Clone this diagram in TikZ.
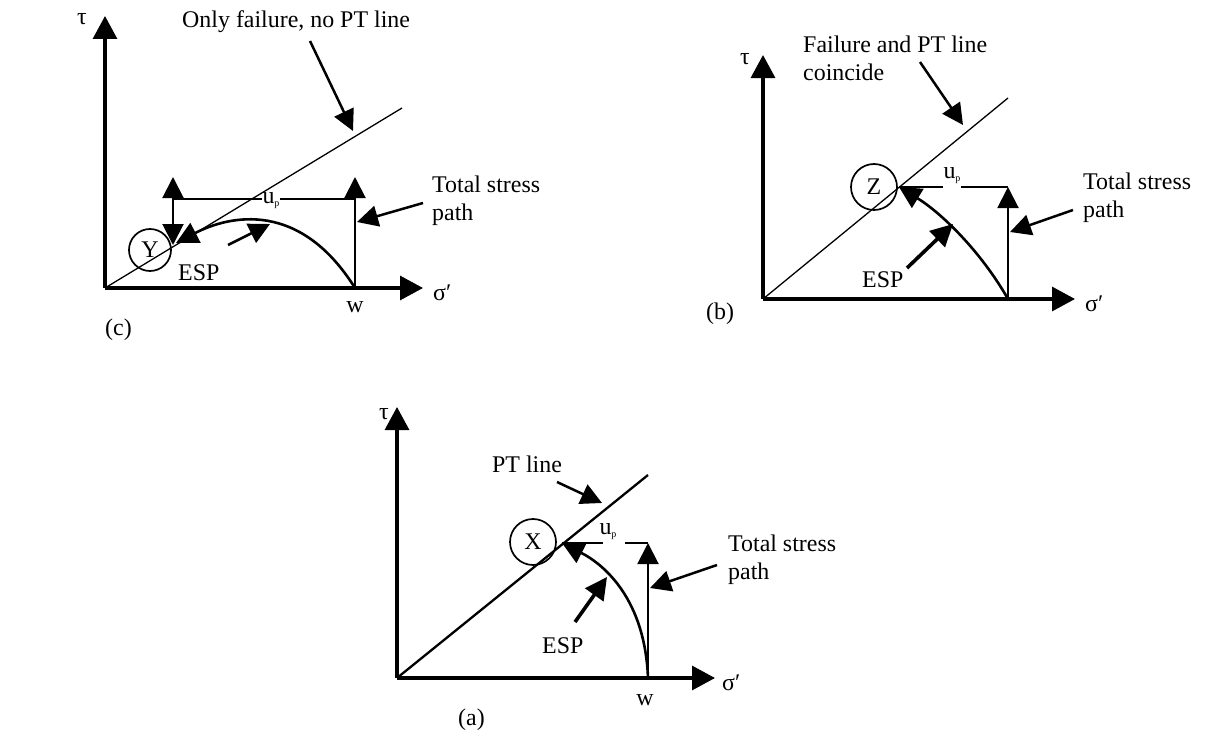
\documentclass[tikz,border=0pt]{standalone}
\usepackage{fontspec}
\setmainfont{Liberation Serif}
\usetikzlibrary{arrows.meta}
\newcommand{\lbfont}{\fontsize{24}{28}\selectfont}
\newcommand{\upl}{u\raisebox{-3bp}{\fontsize{10}{10}\selectfont p}}
\begin{document}
\begin{tikzpicture}[x=1bp,y=-1bp,
  ax/.style={line width=3.2bp,-{Triangle[length=23bp,width=24bp]}},
  fl/.style={line width=1.3bp},
  ul/.style={line width=1.8bp},
  tsp/.style={line width=2bp,-{Triangle[length=21bp,width=21bp]}},
  esp/.style={line width=2.6bp,-{Triangle[length=22bp,width=22bp]}},
  ptr/.style={line width=2.5bp,-{Triangle[length=21bp,width=21bp]}},
  ptrb/.style={line width=3.6bp,-{Triangle[length=22bp,width=22bp]}},
  circ/.style={circle,draw,line width=1.7bp,inner sep=0pt,minimum size=#1,font=\lbfont},
  lbl/.style={font=\lbfont,inner sep=0pt},
]
\useasboundingbox (0,0) rectangle (1215,745);
% ================= panel (c) =================
\coordinate (cO) at (105,288);
\coordinate (cT) at (105,16);
\coordinate (cS) at (423,288);
\coordinate (cF) at (402,108);
\draw[ax] (cO) -- (cT);
\draw[ax] (cO) -- (cS);
\draw[fl] (cO) -- (cF);
\node[circ=42bp] (Y) at (150,250) {Y};
\coordinate (cW) at (355,288);
\coordinate (cTop) at (355,177);
\coordinate (cL) at (173,199);
\coordinate (cLu) at (173,177);
\coordinate (cLd) at (173,245);
\coordinate (cR) at (355,199);
\node[lbl] (cup) at (271,201) {\upl};
\draw[ul] (cL) -- (cup.west |- cL);
\draw[ul] (cup.east |- cL) -- (cR);
\draw[tsp] (cL) -- (cLu);
\draw[tsp] (cL) -- (cLd);
\draw[tsp] (cW) -- (cTop);
\coordinate (cE) at (176,243);
\draw[esp] (cW) .. controls (300,200) and (230,215) .. (cE);
\coordinate (cA1) at (228,245);
\coordinate (cA2) at (270,224);
\draw[ptr] (cA1) -- (cA2);
\node[lbl,anchor=base west] (cesp) at (178,280) {ESP};
\node[lbl,anchor=base west] (cfail) at (182,28) {Only failure, no PT line};
\coordinate (cP1) at (310,41);
\coordinate (cP2) at (353,131);
\draw[ptr] (cP1) -- (cP2);
\node[lbl,anchor=west,align=left] (ctsp) at (432,201) {Total stress\\path};
\coordinate (cQ1) at (423,203);
\coordinate (cQ2) at (357,222);
\draw[ptr] (cQ1) -- (cQ2);
\node[lbl,anchor=base west] (csig) at (433,300) {σ′};
\node[lbl,anchor=base] (cw) at (355,312) {w};
\node[lbl,anchor=base] (ctau) at (82,25) {τ};
\node[lbl,anchor=base west] (clab) at (105,335) {(c)};
% ================= panel (b) =================
\coordinate (bO) at (763,299);
\coordinate (bT) at (763,55);
\coordinate (bS) at (1075,299);
\coordinate (bF) at (1008,98);
\draw[ax] (bO) -- (bT);
\draw[ax] (bO) -- (bS);
\draw[fl] (bO) -- (bF);
\node[circ=46bp] (Z) at (874,187) {Z};
\coordinate (bW) at (1008,299);
\coordinate (bR) at (1008,187);
\coordinate (bE) at (899,187);
\node[lbl] (bup) at (952,176) {\upl};
\draw[ul] (bE) -- (bup.west |- bE);
\draw[ul] (bup.east |- bE) -- (bR);
\draw[tsp] (bW) -- (bR);
\draw[esp] (bW) .. controls (980,250) and (940,212) .. (bE);
\node[lbl,anchor=base west] (besp) at (862,287) {ESP};
\coordinate (bA1) at (907,268);
\coordinate (bA2) at (953,224);
\draw[ptrb] (bA1) -- (bA2);
\node[lbl,anchor=west,align=left] (btsp) at (1083,198) {Total stress\\path};
\coordinate (bQ1) at (1073,210);
\coordinate (bQ2) at (1010,232);
\draw[ptr] (bQ1) -- (bQ2);
\node[lbl,anchor=west,align=left] (bfail) at (803,58) {Failure and PT line\\coincide};
\coordinate (bP1) at (920,62);
\coordinate (bP2) at (963,125);
\draw[ptr] (bP1) -- (bP2);
\node[lbl,anchor=base] (btau) at (745,65) {τ};
\node[lbl,anchor=base west] (bsig) at (1085,311) {σ′};
\node[lbl,anchor=base west] (blab) at (706,319) {(b)};
% ================= panel (a) =================
\coordinate (aO) at (397,678);
\coordinate (aT) at (397,407);
\coordinate (aS) at (715,678);
\coordinate (aF) at (648,475);
\draw[ax] (aO) -- (aT);
\draw[ax] (aO) -- (aS);
\draw[line width=2.3bp] (aO) -- (aF);
\node[circ=46bp] (X) at (533,542) {X};
\coordinate (aW) at (648,678);
\coordinate (aR) at (648,543);
\coordinate (aE) at (562,543);
\node[lbl] (aup) at (608,532) {\upl};
\coordinate (aG1) at (603,543);
\coordinate (aG2) at (625,543);
\draw[ul] (aE) -- (aG1);
\draw[ul] (aG2) -- (aR);
\draw[tsp] (aW) -- (aR);
\draw[esp] (aW) .. controls (645,600) and (605,565) .. (aE);
\node[lbl,anchor=base west] (aesp) at (542,653) {ESP};
\coordinate (aA1) at (575,622);
\coordinate (aA2) at (607,577);
\draw[ptrb] (aA1) -- (aA2);
\node[lbl,anchor=base west] (apt) at (492,472) {PT line};
\coordinate (aP1) at (557,482);
\coordinate (aP2) at (602,503);
\draw[ptr] (aP1) -- (aP2);
\node[lbl,anchor=west,align=left] (atsp) at (728,560) {Total stress\\path};
\coordinate (aQ1) at (717,565);
\coordinate (aQ2) at (650,588);
\draw[ptr] (aQ1) -- (aQ2);
\node[lbl,anchor=base] (aw) at (645,705) {w};
\node[lbl,anchor=base west] (asig) at (722,690) {σ′};
\node[lbl,anchor=base] (atau) at (384,419) {τ};
\node[lbl,anchor=base west] (alab) at (458,725) {(a)};
\end{tikzpicture}
\end{document}
